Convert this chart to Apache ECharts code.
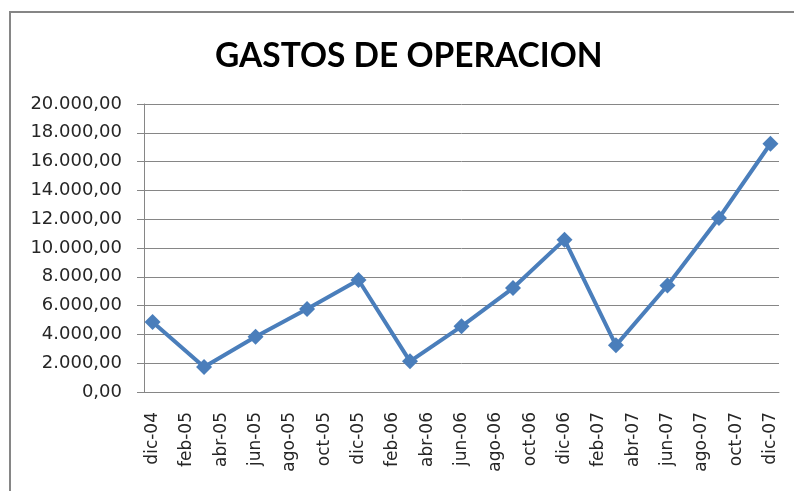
<!DOCTYPE html>
<html>
<head>
<meta charset="utf-8">
<script src="https://cdn.jsdelivr.net/npm/echarts@6/dist/echarts.min.js"></script>
<style>
  html, body { margin: 0; padding: 0; background: #fff; }
  #main { width: 794px; height: 491px; }
</style>
</head>
<body>
<div id="main"></div>
<script>
// fechas trimestrales y gastos
const fechas = ['dic-04', 'mar-05', 'jun-05', 'sep-05', 'dic-05', 'mar-06', 'jun-06',
                'sep-06', 'dic-06', 'mar-07', 'jun-07', 'sep-07', 'dic-07']
const gastos = [4860, 1740, 3840, 5760, 7780, 2130, 4560, 7220, 10580, 3240, 7400, 12080, 17240]

// eje de meses: dic-04 .. dic-07
const nombresMes = ['ene', 'feb', 'mar', 'abr', 'may', 'jun', 'jul', 'ago', 'sep', 'oct', 'nov', 'dic']
let meses = ['dic-04']
for (let a = 5; a <= 7; a++) {
    for (let m = 0; m < 12; m++) {
        meses.push(nombresMes[m] + '-0' + a)
    }
}

let formato = function(v) {
    let entero = String(Math.round(v)).replace(/\B(?=(\d{3})+(?!\d))/g, '.')
    return entero + ',00'
}

let gris = '#868686'
let myChart = echarts.init(document.getElementById('main'))

let option = {
    animation: false,
    backgroundColor: '#fff',
    graphic: [{
        type: 'rect',
        shape: { x: 10, y: 12, width: 800, height: 500 },
        style: { fill: 'none', stroke: gris, lineWidth: 2 },
        silent: true
    }],
    title: {
        text: 'GASTOS DE OPERACION',
        left: 210,
        top: 34,
        textStyle: {
            fontFamily: 'Lato',
            fontWeight: 'bold',
            fontSize: 33.5,
            color: '#000'
        }
    },
    grid: {
        left: 144,
        right: 15,
        top: 104,
        bottom: 99
    },
    xAxis: {
        type: 'category',
        data: meses,
        boundaryGap: true,
        axisLine: { lineStyle: { color: gris, width: 1 } },
        axisTick: { interval: 1, length: 7, lineStyle: { color: gris } },
        axisLabel: {
            interval: 1,
            rotate: 90,
            margin: 20,
            fontFamily: 'DejaVu Sans',
            fontSize: 17,
            color: '#262626'
        }
    },
    yAxis: {
        type: 'value',
        min: 0,
        max: 20000,
        interval: 2000,
        axisLine: { show: true, lineStyle: { color: gris, width: 1 } },
        axisTick: { show: true, length: 7, lineStyle: { color: gris } },
        splitLine: { lineStyle: { color: gris, width: 1 } },
        axisLabel: {
            margin: 22,
            fontFamily: 'DejaVu Sans',
            fontSize: 18,
            color: '#262626',
            formatter: formato
        }
    },
    series: [{
        type: 'line',
        data: fechas.map((f, i) => [f, gastos[i]]),
        showAllSymbol: true,
        symbol: 'diamond',
        symbolSize: 16,
        lineStyle: { color: '#4a7ebb', width: 4 },
        itemStyle: { color: '#4a7ebb' }
    }]
}

myChart.setOption(option)
</script>
</body>
</html>
